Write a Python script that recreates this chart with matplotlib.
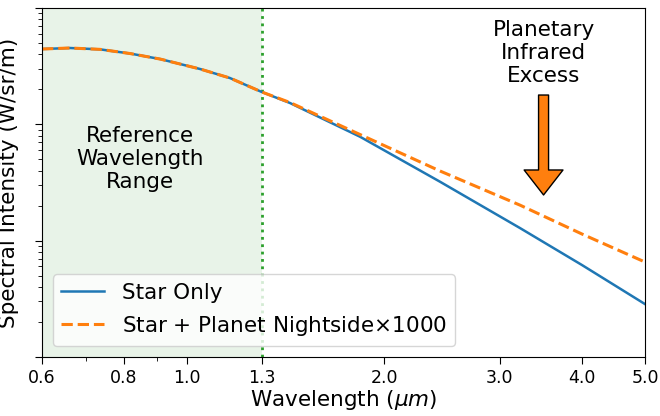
import matplotlib
matplotlib.use("Agg")
import matplotlib.pyplot as plt
from matplotlib.ticker import NullFormatter, FixedLocator, FixedFormatter

# Data (relative spectral intensity, log scale)
wavelength = [0.600, 0.662, 0.736, 0.818, 0.909, 1.046, 1.162, 1.300, 1.435,
              1.836, 2.432, 3.222, 4.007, 5.000]
star_only = [0.444, 0.453, 0.441, 0.406, 0.364, 0.299, 0.250, 0.1895, 0.1525,
             0.0782, 0.0321, 0.01283, 0.00617, 0.00285]
star_planet = [0.444, 0.453, 0.441, 0.406, 0.364, 0.299, 0.250, 0.1895, 0.154,
               0.0817, 0.0397, 0.0202, 0.0114, 0.00655]

xtick_values = [0.6, 0.8, 1.0, 1.3, 2.0, 3.0, 4.0, 5.0]
xtick_labels = ["0.6", "0.8", "1.0", "1.3", "2.0", "3.0", "4.0", "5.0"]

ref_range = (0.6, 1.3)
arrow_x = 3.5
arrow_tail = 0.1786
arrow_tip = 0.0247

fig = plt.figure(figsize=(6.6, 4.16), dpi=100)
ax = fig.add_axes([42 / 660, 1 - 357 / 416, (645 - 42) / 660, (357 - 8) / 416])

ax.axvspan(ref_range[0], ref_range[1], color="green", alpha=0.09, lw=0)
ax.axvline(ref_range[1], color="tab:green", ls=":", lw=2)

ax.plot(wavelength, star_only, color="#1f77b4", lw=1.8, label="Star Only")
ax.plot(wavelength, star_planet, color="#ff7f0e", lw=2.2, ls="--",
        label="Star + Planet Nightside$\\times$1000")

ax.set_xscale("log")
ax.set_yscale("log")
ax.set_xlim(0.6, 5.0)
ax.set_ylim(1e-3, 1)

ax.xaxis.set_major_locator(FixedLocator(xtick_values))
ax.xaxis.set_major_formatter(FixedFormatter(xtick_labels))
ax.xaxis.set_minor_formatter(NullFormatter())
ax.yaxis.set_major_formatter(NullFormatter())
ax.yaxis.set_minor_formatter(NullFormatter())
ax.tick_params(which="major", length=5, labelsize=12.5)
ax.tick_params(which="minor", length=3)

ax.set_xlabel("Wavelength ($\\mu m$)", fontsize=15.5, labelpad=1)
ax.set_ylabel("Spectral Intensity (W/sr/m)", fontsize=15.5, labelpad=8)

ax.text(0.847, 0.0503, "Reference\nWavelength\nRange", ha="center", va="center",
        fontsize=15.5)
ax.text(arrow_x, 0.41, "Planetary\nInfrared\nExcess", ha="center", va="center",
        fontsize=15.5)
ax.annotate("", xy=(arrow_x, arrow_tip), xytext=(arrow_x, arrow_tail),
            arrowprops=dict(facecolor="#ff7f0e", edgecolor="black", lw=1,
                            width=7.2, headwidth=28, headlength=18, shrink=0))

ax.legend(loc="lower left", fontsize=15.5)

fig.savefig("out.png", dpi=100)
